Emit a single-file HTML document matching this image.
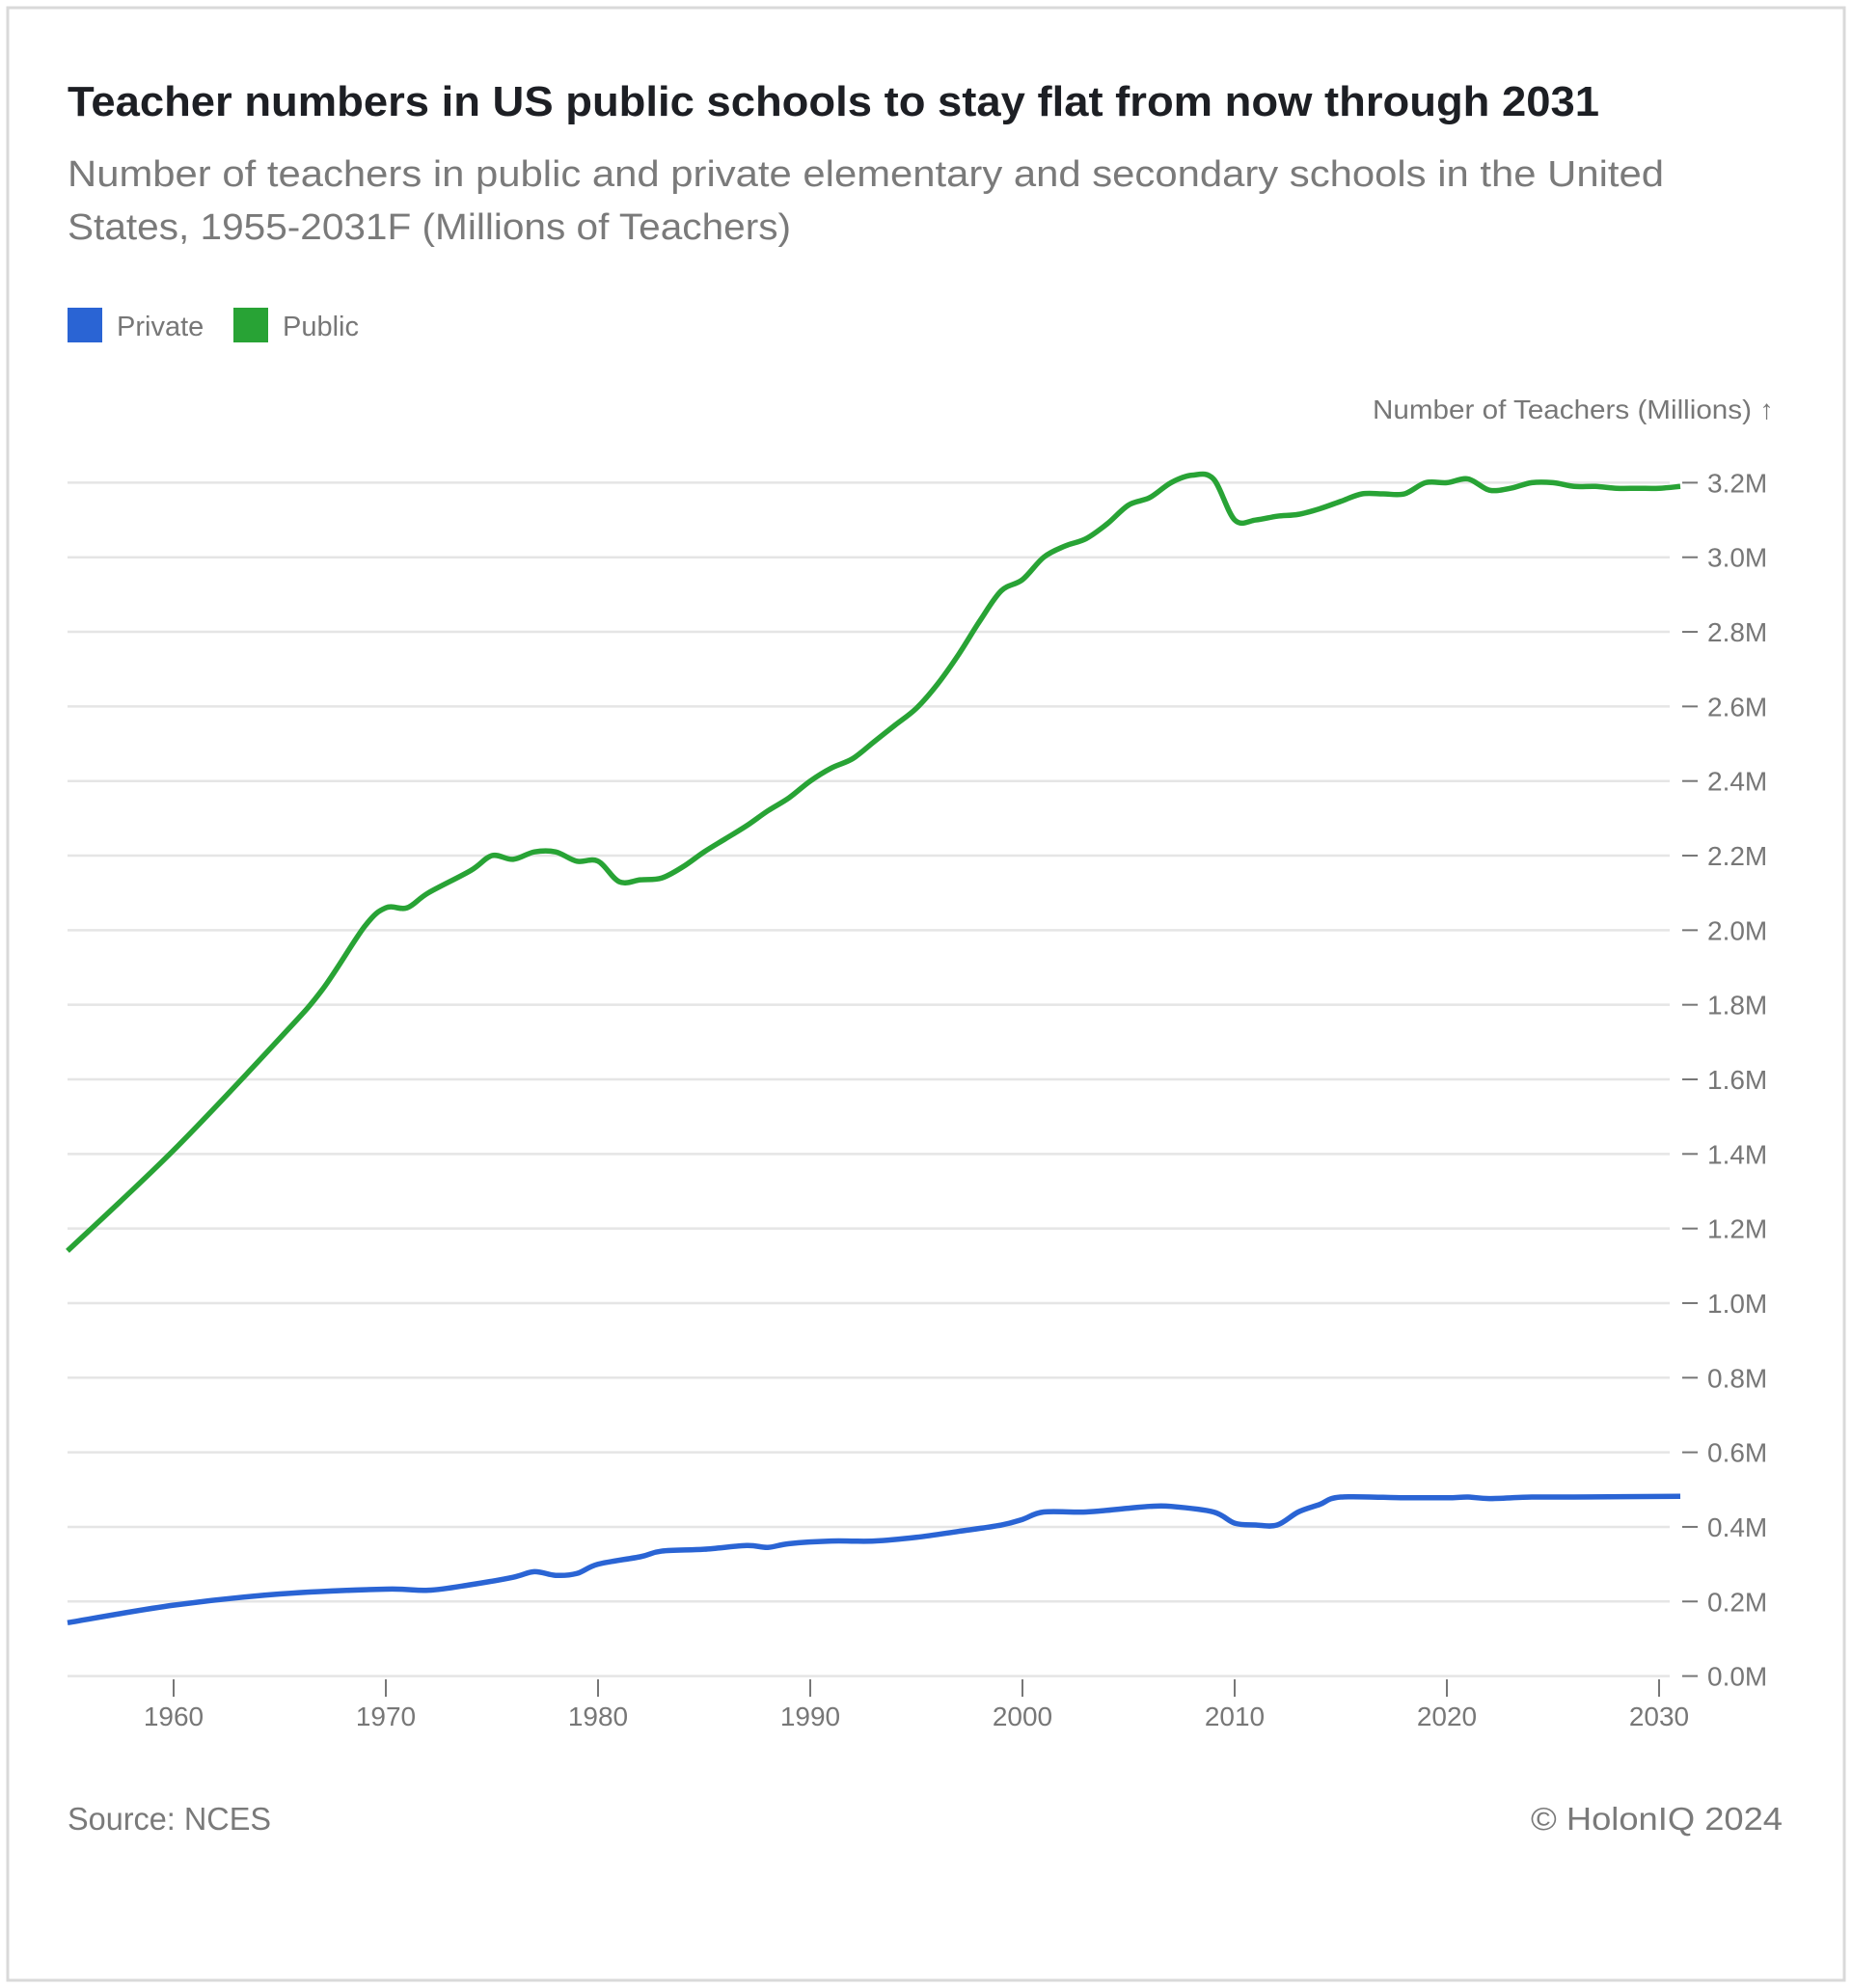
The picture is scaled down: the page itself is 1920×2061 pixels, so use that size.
<!DOCTYPE html>
<html><head><meta charset="utf-8"><style>
html,body{margin:0;padding:0;background:#fff;width:1920px;height:2061px;overflow:hidden}
svg{display:block;font-family:"Liberation Sans",sans-serif}
</style></head><body>
<svg id="chart" width="1920" height="2061" viewBox="0 0 1920 2061">
<rect x="8" y="8" width="1904" height="2045" fill="#fff" stroke="#d9d9d9" stroke-width="3"/>
<text x="70" y="120" font-size="44" font-weight="bold" fill="#1d1f24" textLength="1588" lengthAdjust="spacingAndGlyphs">Teacher numbers in US public schools to stay flat from now through 2031</text>
<text x="70" y="193" font-size="38" fill="#7a7a7a" textLength="1655" lengthAdjust="spacingAndGlyphs">Number of teachers in public and private elementary and secondary schools in the United</text>
<text x="70" y="248" font-size="38" fill="#7a7a7a" textLength="750" lengthAdjust="spacingAndGlyphs">States, 1955-2031F (Millions of Teachers)</text>
<g>
<rect x="70" y="319" width="36" height="36" fill="#2a64d4"/>
<text x="121" y="348" font-size="29" fill="#777">Private</text>
<rect x="242" y="319" width="36" height="36" fill="#28a335"/>
<text x="293" y="348" font-size="29" fill="#777">Public</text>
</g>
<text x="1839" y="434" font-size="28" fill="#777" text-anchor="end" textLength="416" lengthAdjust="spacingAndGlyphs">Number of Teachers (Millions) ↑</text>
<g id="grid"></g><g id="xaxis"></g><g id="lines"></g>
<text x="70" y="1897" font-size="33" fill="#7a7a7a" textLength="211" lengthAdjust="spacingAndGlyphs">Source: NCES</text>
<text x="1848" y="1897" font-size="33" fill="#7a7a7a" text-anchor="end" textLength="261" lengthAdjust="spacingAndGlyphs">© HolonIQ 2024</text>
</svg>
<script>
const yTicks=[0,0.2,0.4,0.6,0.8,1.0,1.2,1.4,1.6,1.8,2.0,2.2,2.4,2.6,2.8,3.0,3.2];
const xTicks=[1960,1970,1980,1990,2000,2010,2020,2030];
const publicYears=[1955,1960,1965,1967,1969,1970,1971,1972,1974,1975,1976,1977,1978,1979,1980,1981,1982,1983,1984,1985,1986,1987,1988,1989,1990,1991,1992,1993,1994,1995,1996,1997,1998,1999,2000,2001,2002,2003,2004,2005,2006,2007,2008,2009,2010,2011,2012,2013,2014,2015,2016,2017,2018,2019,2020,2021,2022,2023,2024,2025,2026,2027,2028,2029,2030,2031];
const publicValues=[1.14,1.41,1.71,1.84,2.01,2.06,2.06,2.10,2.16,2.20,2.19,2.21,2.21,2.185,2.185,2.13,2.135,2.14,2.17,2.21,2.245,2.28,2.32,2.355,2.40,2.435,2.46,2.505,2.55,2.595,2.66,2.74,2.83,2.91,2.94,3.00,3.03,3.05,3.09,3.14,3.16,3.20,3.22,3.21,3.10,3.10,3.11,3.115,3.13,3.15,3.17,3.17,3.17,3.20,3.20,3.21,3.18,3.185,3.20,3.20,3.19,3.19,3.185,3.185,3.185,3.19];
const privateYears=[1955,1960,1965,1970,1972,1974,1976,1977,1978,1979,1980,1982,1983,1985,1987,1988,1989,1991,1993,1995,1997,1999,2000,2001,2003,2005,2006,2007,2009,2010,2011,2012,2013,2014,2015,2018,2020,2021,2022,2024,2026,2031];
const privateValues=[0.143,0.19,0.22,0.233,0.23,0.245,0.265,0.28,0.27,0.275,0.30,0.32,0.335,0.34,0.35,0.345,0.355,0.362,0.362,0.372,0.388,0.405,0.42,0.44,0.44,0.45,0.455,0.455,0.44,0.41,0.405,0.405,0.44,0.46,0.48,0.478,0.478,0.48,0.476,0.48,0.48,0.482];
const NS='http://www.w3.org/2000/svg';
const X0=70,Y0=1737.6,PX=22.0,PY=1237.2/3.2;
function xs(y){return X0+(y-1955)*PX;}
function ys(v){return Y0-v*PY;}
function mk(t,a,p){const e=document.createElementNS(NS,t);for(const k in a)e.setAttribute(k,a[k]);p.appendChild(e);return e;}
const grid=document.getElementById('grid');
yTicks.forEach(v=>{
 const y=ys(v);
 const l=mk('line',{x1:70,x2:1731,y1:y,y2:y,stroke:'#e5e5e5','stroke-width':2.5},grid);
 
 
 const t=mk('line',{x1:1744,x2:1760,y1:y,y2:y,stroke:'#777','stroke-width':2},grid);
 
 
 const tx=mk('text',{x:1770,y:y+10,'font-size':28,fill:'#777'},grid);
 tx.textContent=v.toFixed(1)+'M';
 
 
});
const xa=document.getElementById('xaxis');
xTicks.forEach(yr=>{
 const x=xs(yr);
 const t=mk('line',{x1:x,x2:x,y1:1741,y2:1759,stroke:'#777','stroke-width':2},xa);
 
 
 const tx=mk('text',{x:x,y:1789,'font-size':28,fill:'#777','text-anchor':'middle'},xa);
 tx.textContent=yr;
 
 
});
function pathFor(yrs,vals){
 const p=yrs.map((y,i)=>[xs(y),ys(vals[i])]);
 let d='M'+p[0][0]+','+p[0][1];
 for(let i=0;i<p.length-1;i++){
  const p0=p[Math.max(0,i-1)],p1=p[i],p2=p[i+1],p3=p[Math.min(p.length-1,i+2)];
  const c1=[p1[0]+(p2[0]-p0[0])/6,p1[1]+(p2[1]-p0[1])/6];
  const c2=[p2[0]-(p3[0]-p1[0])/6,p2[1]-(p3[1]-p1[1])/6];
  d+=' C'+c1[0]+','+c1[1]+' '+c2[0]+','+c2[1]+' '+p2[0]+','+p2[1];
 }
 return d;
}
const lines=document.getElementById('lines');
const pub=mk('path',{d:pathFor(publicYears,publicValues),fill:'none',stroke:'#28a335','stroke-width':5.5,'stroke-linejoin':'round'},lines);


const pri=mk('path',{d:pathFor(privateYears,privateValues),fill:'none',stroke:'#2a64d4','stroke-width':5.5,'stroke-linejoin':'round'},lines);


</script>
</body></html>
